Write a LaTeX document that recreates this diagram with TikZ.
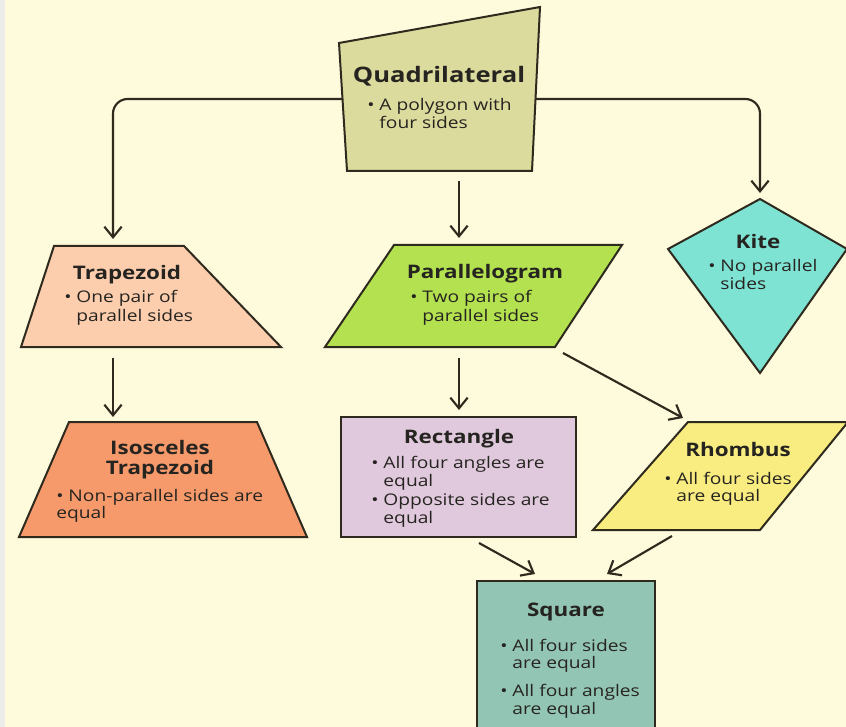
\documentclass[tikz,border=0pt]{standalone}
\usepackage{fontspec}
\setmainfont{Open Sans}[FakeStretch=1.2]
\usetikzlibrary{arrows.meta}

\definecolor{paper}{HTML}{FEFADC}
\definecolor{strip}{HTML}{ECECEA}
\definecolor{edge}{HTML}{2F2A1E}
\definecolor{ink}{HTML}{262420}
\definecolor{quadfill}{HTML}{DCDB9E}
\definecolor{trapfill}{HTML}{FCCEAE}
\definecolor{isofill}{HTML}{F69A6B}
\definecolor{parafill}{HTML}{B3E150}
\definecolor{kitefill}{HTML}{7FE3D4}
\definecolor{rectfill}{HTML}{E0C9DD}
\definecolor{rhomfill}{HTML}{F9EC80}
\definecolor{sqfill}{HTML}{93C5B5}

\newcommand{\hang}{\phantom{•\ }}
\newcommand{\lines}[1]{\begin{tabular}[t]{@{}l@{}}#1\end{tabular}}

\begin{document}
\begin{tikzpicture}[x=0.75pt,y=-0.75pt,
  shp/.style={draw=edge,line width=1.5pt},
  arr/.style={draw=edge,line width=1.6pt,-{Straight Barb[length=8pt,width=13pt]}},
  ttl/.style={font=\fontsize{14}{15}\selectfont\bfseries,text=ink,inner sep=0pt,anchor=base,align=center},
  txt/.style={font=\fontsize{12}{13.2}\selectfont,text=ink,inner sep=0pt,anchor=base west}]
  \fill[paper] (0,0) rectangle (846,727);
  \fill[strip] (0,0) rectangle (5,727);
  \clip (0,0) rectangle (846,727);

  % shapes
  \draw[shp,fill=quadfill] (339,43) -- (540,7) -- (532,171) -- (347,171) -- cycle;
  \draw[shp,fill=trapfill] (54,246) -- (184,246) -- (281,347) -- (21,347) -- cycle;
  \draw[shp,fill=parafill] (394,245) -- (622,245) -- (555,347) -- (325,347) -- cycle;
  \draw[shp,fill=kitefill] (760,199) -- (847,249) -- (760,373) -- (668,249) -- cycle;
  \draw[shp,fill=isofill] (69,422) -- (257,422) -- (307,537) -- (19,537) -- cycle;
  \draw[shp,fill=rectfill] (341,417) rectangle (576,537);
  \draw[shp,fill=rhomfill] (688,422) -- (848,422) -- (760,530) -- (593,530) -- cycle;
  \draw[shp,fill=sqfill] (477,581) rectangle (655,740);

  % labels
  \node[ttl,font=\fontsize{16}{17}\selectfont\bfseries] (quad) at (439,83) {Quadrilateral};
  \node[txt] (quad-txt) at (367,111) {\lines{•\ A polygon with\\\hang four sides}};
  \node[ttl] (trap) at (127,280) {Trapezoid};
  \node[txt] (trap-txt) at (64,303) {\lines{•\ One pair of\\[1pt]\hang parallel sides}};
  \node[ttl] (para) at (485,279) {Parallelogram};
  \node[txt] (para-txt) at (410,303) {\lines{•\ Two pairs of\\[1pt]\hang parallel sides}};
  \node[ttl] (kite) at (758,249) {Kite};
  \node[txt] (kite-txt) at (708,272) {\lines{•\ No parallel\\\hang sides}};
  \node[ttl] (iso) at (160,474) {Isosceles\\Trapezoid};
  \node[txt] (iso-txt) at (56,501) {\lines{•\ Non-parallel sides are\\equal}};
  \node[ttl] (rect) at (459,443) {Rectangle};
  \node[txt] (rect-txt) at (371,468) {\lines{•\ All four angles are\\[1pt]\hang equal\\[1pt]•\ Opposite sides are\\\hang equal}};
  \node[ttl] (rhom) at (738,456) {Rhombus};
  \node[txt] (rhom-txt) at (664,484) {\lines{•\ All four sides\\\hang are equal}};
  \node[ttl] (sq) at (566,616) {Square};
  \node[txt] (sq-txt) at (500,651) {\lines{•\ All four sides\\\hang are equal\\[8pt]•\ All four angles\\\hang are equal}};

  % connector ends
  \coordinate (quad-w) at (343,99);
  \coordinate (quad-e) at (536,99);
  \coordinate (quad-s) at (459,181);
  \coordinate (trap-in) at (113,239);
  \coordinate (trap-s) at (113,358);
  \coordinate (kite-in) at (760,193);
  \coordinate (para-in) at (459,238);
  \coordinate (para-s) at (459,358);
  \coordinate (para-se) at (563,353);
  \coordinate (iso-in) at (113,417);
  \coordinate (rect-in) at (459,410);
  \coordinate (rect-se) at (479,543);
  \coordinate (rhom-in) at (683,418);
  \coordinate (rhom-sw) at (672,536);
  \coordinate (sq-inl) at (535,574);
  \coordinate (sq-inr) at (607,574);

  % connectors
  \draw[arr,rounded corners=11pt] (quad-w) -| (trap-in);
  \draw[arr,rounded corners=11pt] (quad-e) -| (kite-in);
  \draw[arr] (quad-s) -- (para-in);
  \draw[arr] (trap-s) -- (iso-in);
  \draw[arr] (para-s) -- (rect-in);
  \draw[arr] (para-se) -- (rhom-in);
  \draw[arr] (rect-se) -- (sq-inl);
  \draw[arr] (rhom-sw) -- (sq-inr);
\end{tikzpicture}
\end{document}
